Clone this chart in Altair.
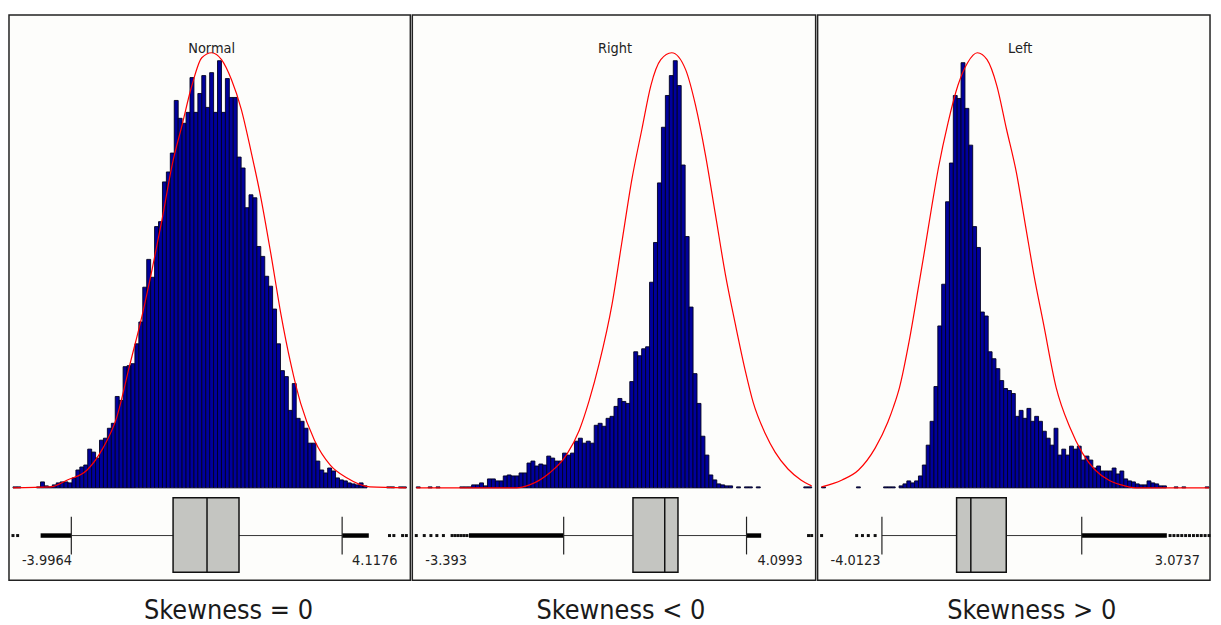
import altair as alt
import pandas as pd

FONT = "DejaVu Sans Condensed, DejaVu Sans, sans-serif"

panel_titles = ["Normal", "Right", "Left"]
captions = ["Skewness = 0", "Skewness < 0", "Skewness > 0"]
data_min = [-3.9964, -3.393, -4.0123]
data_max = [4.1176, 4.0993, 3.0737]
min_labels = ["-3.9964", "-3.393", "-4.0123"]
max_labels = ["4.1176", "4.0993", "3.0737"]

# histogram counts, 100 equal bins between data_min and data_max
counts_normal = [1, 1, 0, 0, 0, 0, 1, 6, 2, 1,
                 3, 5, 6, 6, 5, 10, 18, 21, 23, 39,
                 36, 30, 48, 50, 60, 65, 92, 88, 122, 123,
                 125, 145, 167, 202, 230, 212, 263, 268, 308, 318,
                 337, 390, 372, 367, 378, 413, 378, 397, 415, 383,
                 418, 378, 430, 378, 412, 393, 393, 333, 322, 282,
                 295, 292, 243, 233, 213, 203, 180, 145, 118, 112,
                 78, 105, 70, 67, 60, 45, 45, 27, 18, 15,
                 20, 17, 10, 8, 7, 5, 4, 3, 5, 2,
                 0, 0, 0, 0, 0, 1, 1, 0, 1, 1]
counts_right = [1, 0, 0, 1, 0, 1, 0, 0, 0, 0,
                0, 1, 1, 1, 3, 3, 5, 2, 9, 9,
                7, 7, 12, 13, 12, 12, 15, 15, 25, 27,
                22, 24, 23, 32, 30, 27, 27, 35, 33, 35,
                47, 50, 45, 47, 45, 63, 65, 62, 70, 72,
                82, 90, 87, 85, 107, 137, 133, 140, 142, 207,
                247, 307, 363, 395, 415, 430, 405, 325, 253, 182,
                115, 85, 52, 33, 13, 8, 4, 3, 2, 2,
                0, 1, 0, 1, 1, 0, 1, 0, 0, 0,
                0, 0, 0, 0, 0, 0, 0, 0, 1, 1]
counts_left = [1, 0, 0, 0, 0, 0, 0, 0, 0, 1,
               0, 0, 0, 0, 0, 0, 1, 1, 1, 0,
               2, 4, 7, 5, 7, 12, 23, 43, 67, 102,
               163, 205, 288, 327, 395, 392, 428, 382, 345, 263,
               242, 177, 173, 137, 130, 120, 108, 100, 98, 95,
               72, 78, 70, 80, 67, 72, 67, 57, 50, 43,
               60, 33, 39, 33, 42, 39, 42, 28, 32, 28,
               20, 22, 17, 17, 17, 20, 14, 17, 9, 7,
               6, 4, 3, 3, 7, 5, 4, 2, 2, 0,
               0, 1, 0, 1, 0, 0, 0, 0, 0, 1]

# fitted normal curves
curve_normal_x = [-3.996, -3.222, -2.875, -2.467, -2.141, -1.856, -1.591, -1.326, -1.122, -0.918,
                  -0.714, -0.510, -0.306, -0.102, 0.102, 0.305, 0.509, 0.713, 0.917, 1.121,
                  1.325, 1.530, 1.734, 1.938, 2.222, 2.548, 2.895, 3.364, 4.118]
curve_normal_y = [0, 1, 8, 18, 40, 71, 123, 175, 221, 271,
                  325, 365, 405, 433, 438, 431, 411, 381, 338, 291,
                  235, 175, 125, 85, 48, 23, 10, 1, 0]
curve_right_x = [-3.393, -1.811, -1.491, -1.246, -0.869, -0.549, -0.304, -0.116, 0.072, 0.317,
                 0.505, 0.694, 0.882, 1.052, 1.240, 1.447, 1.711, 1.899, 2.087, 2.276,
                 2.464, 2.652, 2.841, 2.991, 3.217, 3.406, 3.650, 3.895, 4.099]
curve_right_y = [0, 0, 0, 3, 15, 33, 58, 88, 125, 185,
                 248, 311, 361, 405, 431, 438, 421, 385, 335, 275,
                 215, 165, 118, 86, 55, 36, 19, 8, 2]
curve_left_x = [-4.012, -3.638, -3.336, -3.033, -2.802, -2.695, -2.588, -2.410, -2.232, -2.125,
                -2.001, -1.876, -1.698, -1.520, -1.342, -1.164, -0.986, -0.808, -0.630, -0.452,
                -0.274, -0.131, 0.047, 0.278, 0.528, 0.759, 0.991, 1.236, 1.467, 1.734, 3.074]
curve_left_y = [1, 8, 18, 40, 66, 82, 101, 148, 205, 240,
                282, 322, 368, 405, 428, 438, 431, 405, 361, 318,
                261, 215, 165, 101, 61, 35, 18, 8, 3, 0, 0]

# box plot: lower whisker, Q1, median, Q3, upper whisker
box_normal = [-2.793, -0.694, 0.006, 0.666, 2.793]
box_right = [-0.600, 0.713, 1.315, 1.566, 2.865]
box_left = [-2.909, -1.543, -1.283, -0.635, 0.746]

# runs of densely packed outliers (start, end)
dense_normal = [(-3.426, -2.793), (2.793, 3.343)]
dense_right = [(-2.395, -0.600), (2.865, 3.142)]
dense_left = [(0.746, 2.302)]

# individual outliers
sparse_normal = [-3.9964, -3.90, 3.77, 3.86, 4.04, 4.1176]
sparse_right = [-3.393, -3.242, -3.116, -3.003, -2.879, -2.715, -2.658, -2.602, -2.545,
                -2.489, -2.433, 4.04, 4.0993]
sparse_left = [-4.0123, -3.371, -3.265, -3.158, -3.033, 2.361, 2.432, 2.504, 2.575, 2.646,
               2.717, 2.789, 2.860, 2.931, 3.002, 3.0737]

counts_all = [counts_normal, counts_right, counts_left]
curves_all = [(curve_normal_x, curve_normal_y), (curve_right_x, curve_right_y),
              (curve_left_x, curve_left_y)]
boxes_all = [box_normal, box_right, box_left]
dense_all = [dense_normal, dense_right, dense_left]
sparse_all = [sparse_normal, sparse_right, sparse_left]

WIDTHS = [404, 406, 395]
RANGE_R = [400, 402, 394]
H = 569
CAP_DX = [19, 7, 18]
BASE = 476
PEAK_Y = 38
BOX_TOP, BOX_BOT, WHISK_Y = 486, 561, 524
SMALL = 14.5


def panel(i):
    W = WIDTHS[i]
    mn, mx = data_min[i], data_max[i]
    counts = counts_all[i]
    n = len(counts)
    step = (mx - mn) / n
    hist = pd.DataFrame({
        "start": [mn + k * step for k in range(n)],
        "end": [mn + (k + 1) * step for k in range(n)],
        "count": counts,
    })
    hist = hist[hist["count"] > 0]
    cx, cy = curves_all[i]
    curve = pd.DataFrame({"cx": cx, "cy": cy})
    b = boxes_all[i]
    box = pd.DataFrame({"wlo": [b[0]], "q1": [b[1]], "med": [b[2]], "q3": [b[3]], "whi": [b[4]]})
    ticks = pd.DataFrame({"v": [b[0], b[4]]})
    dense = pd.DataFrame({"a": [d[0] for d in dense_all[i]], "b": [d[1] for d in dense_all[i]]})
    sparse = pd.DataFrame({"v": sparse_all[i]})
    lo_lbl = pd.DataFrame({"v": [mn], "t": [min_labels[i]]})
    hi_lbl = pd.DataFrame({"v": [mx], "t": [max_labels[i]]})
    ttl = pd.DataFrame({"t": [panel_titles[i]]})

    xs = alt.Scale(domain=[mn, mx], range=[4, RANGE_R[i]], nice=False, zero=False)
    ys = alt.Scale(domain=[0, 438], range=[BASE, PEAK_Y], nice=False, zero=False)

    bars = alt.Chart(hist).mark_rect(fill="#00009c", stroke="#000020", strokeWidth=0.9).encode(
        x=alt.X("start:Q", scale=xs, axis=None),
        x2="end:Q",
        y=alt.Y("count:Q", scale=ys, axis=None),
        y2=alt.datum(0),
    )
    line = alt.Chart(curve).mark_line(color="#ff0000", strokeWidth=1.2, interpolate="monotone").encode(
        x=alt.X("cx:Q", scale=xs, axis=None),
        y=alt.Y("cy:Q", scale=ys, axis=None),
    )
    whisker = alt.Chart(box).mark_rule(color="#333333", strokeWidth=1).encode(
        x=alt.X("wlo:Q", scale=xs, axis=None), x2="whi:Q", y=alt.value(WHISK_Y)
    )
    dense_l = alt.Chart(dense).mark_rule(color="#000000", strokeWidth=4.5).encode(
        x=alt.X("a:Q", scale=xs, axis=None), x2="b:Q", y=alt.value(WHISK_Y)
    )
    dots = alt.Chart(sparse).mark_square(color="#111111", size=9, opacity=1).encode(
        x=alt.X("v:Q", scale=xs, axis=None), y=alt.value(WHISK_Y)
    )
    tick_l = alt.Chart(ticks).mark_rule(color="#222222", strokeWidth=1.2).encode(
        x=alt.X("v:Q", scale=xs, axis=None), y=alt.value(505), y2=alt.value(543)
    )
    rect = alt.Chart(box).mark_rect(fill="#c4c5c1", stroke="#111111", strokeWidth=1.5).encode(
        x=alt.X("q1:Q", scale=xs, axis=None), x2="q3:Q", y=alt.value(BOX_TOP), y2=alt.value(BOX_BOT)
    )
    med = alt.Chart(box).mark_rule(color="#111111", strokeWidth=1.5).encode(
        x=alt.X("med:Q", scale=xs, axis=None), y=alt.value(BOX_TOP), y2=alt.value(BOX_BOT)
    )
    lo_t = alt.Chart(lo_lbl).mark_text(align="left", baseline="alphabetic", dx=9, font=FONT,
                                         fontSize=SMALL, color="#222222").encode(
        x=alt.X("v:Q", scale=xs, axis=None), y=alt.value(554), text="t:N"
    )
    hi_t = alt.Chart(hi_lbl).mark_text(align="right", baseline="alphabetic", dx=-9, font=FONT,
                                         fontSize=SMALL, color="#222222").encode(
        x=alt.X("v:Q", scale=xs, axis=None), y=alt.value(554), text="t:N"
    )
    title_t = alt.Chart(ttl).mark_text(align="center", baseline="alphabetic", font=FONT,
                                          fontSize=SMALL, color="#222222").encode(
        x=alt.value(204), y=alt.value(38), text="t:N"
    )
    return alt.layer(bars, line, whisker, dense_l, dots, tick_l, rect, med, lo_t, hi_t, title_t).properties(
        width=W, height=H,
        title=alt.TitleParams(captions[i], orient="bottom", anchor="middle", fontSize=27, font=FONT,
                              fontWeight="normal", color="#1a1a1a", offset=18, dx=CAP_DX[i]),
    )


chart = alt.hconcat(panel(0), panel(1), panel(2), spacing=0).properties(
    padding={"left": 0, "top": 4, "right": 0, "bottom": 0}
).configure_view(stroke="#222222", strokeWidth=1.5, fill="#fdfdfb")

chart.save("out.html", embed_options={"renderer": "svg", "actions": False})
